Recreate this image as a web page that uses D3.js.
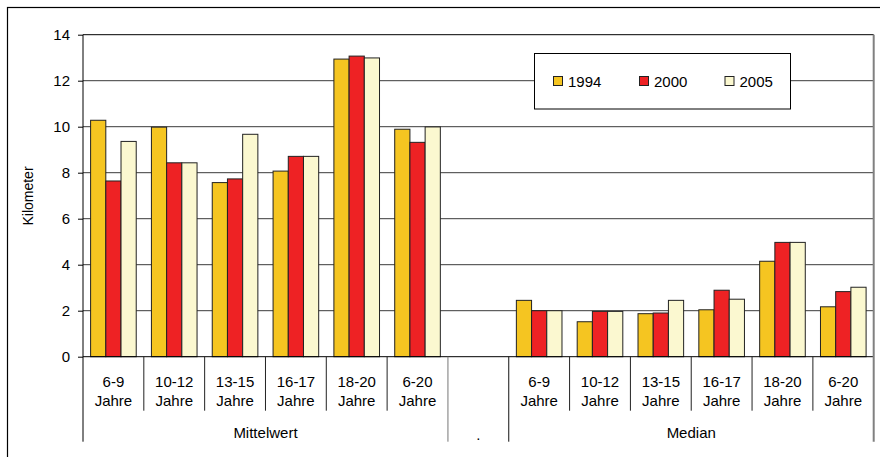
<!DOCTYPE html>
<html>
<head>
<meta charset="utf-8">
<script src="https://cdn.jsdelivr.net/npm/d3@7"></script>
<style>
  body { margin: 0; background: #fff; }
  svg text { font-family: Arial, "Liberation Sans", sans-serif; fill: #000; }
</style>
</head>
<body>
<div id="chart"></div>
<script>
// --- Data (Kilometer) ---
const categories = ['6-9', '10-12', '13-15', '16-17', '18-20', '6-20'];
const groups = ['Mittelwert', '.', 'Median'];
const series = ['1994', '2000', '2005'];
const seriesColors = ['#f5c521', '#ee2224', '#fbf8d0'];

const mittelwert1994 = [10.28, 9.98, 7.57, 8.07, 12.94, 9.89];
const mittelwert2000 = [7.64, 8.43, 7.73, 8.71, 13.07, 9.32];
const mittelwert2005 = [9.36, 8.43, 9.67, 8.71, 12.99, 9.99];

const median1994 = [2.45, 1.52, 1.87, 2.04, 4.15, 2.17];
const median2000 = [2.0, 1.97, 1.9, 2.89, 4.97, 2.83];
const median2005 = [2.0, 1.97, 2.45, 2.5, 4.97, 3.02];

const yTicks = [0, 2, 4, 6, 8, 10, 12, 14];

// --- Layout ---
const W = 880, H = 457;
const plot = { left: 83, right: 873.7, top: 34.7, bottom: 356.7 };
const axisBottomY = 410.7;   // end of inner category separators
const groupBottomY = 441.7;  // end of group separators

const svg = d3.select('#chart').append('svg')
    .attr('width', W)
    .attr('height', H);

// outer frame (runs past the picture on right and bottom)
svg.append('rect')
    .attr('x', 7.5).attr('y', 7.5)
    .attr('width', 920).attr('height', 500)
    .attr('fill', 'none')
    .attr('stroke', '#000')
    .attr('stroke-width', 1.2);

// slots: 6 Mittelwert, 1 blank, 6 Median
const slotKeys = [
    ...categories.map(c => 'M|' + c),
    'gap',
    ...categories.map(c => 'D|' + c)
];

const x = d3.scaleBand()
    .domain(slotKeys)
    .range([plot.left, plot.right])
    .padding(0);

const xInner = d3.scaleBand()
    .domain(series)
    .range([0, x.bandwidth()])
    .paddingInner(0)
    .paddingOuter(0.5);

const y = d3.scaleLinear()
    .domain([0, 14])
    .range([plot.bottom, plot.top]);

// --- Gridlines ---
svg.append('g')
    .selectAll('line')
    .data(yTicks.filter(d => d > 0))
    .enter().append('line')
    .attr('x1', plot.left).attr('x2', plot.right)
    .attr('y1', d => y(d)).attr('y2', d => y(d))
    .attr('stroke', d => d === 14 ? '#000' : '#3a3a3a')
    .attr('stroke-width', 1);

// --- Bars ---
const allSeries = {
    M: [mittelwert1994, mittelwert2000, mittelwert2005],
    D: [median1994, median2000, median2005]
};

const barData = [];
['M', 'D'].forEach(g => {
    categories.forEach((c, ci) => {
        series.forEach((s, si) => {
            barData.push({ slot: g + '|' + c, series: s, si, value: allSeries[g][si][ci] });
        });
    });
});

svg.append('g')
    .selectAll('rect')
    .data(barData)
    .enter().append('rect')
    .attr('x', d => x(d.slot) + xInner(d.series))
    .attr('y', d => y(d.value))
    .attr('width', xInner.bandwidth())
    .attr('height', d => y(0) - y(d.value))
    .attr('fill', d => seriesColors[d.si])
    .attr('stroke', '#222')
    .attr('stroke-width', 1);

// --- Y axis ---
svg.append('line')
    .attr('x1', plot.left).attr('x2', plot.left)
    .attr('y1', plot.top).attr('y2', groupBottomY)
    .attr('stroke', '#000');

svg.append('g')
    .attr('transform', `translate(${plot.left},0)`)
    .call(d3.axisLeft(y).tickValues(yTicks).tickSize(5).tickPadding(8))
    .call(g => g.select('.domain').remove())
    .call(g => g.selectAll('line').attr('stroke', '#000'))
    .call(g => g.selectAll('text')
        .attr('font-size', '15px')
        .attr('font-family', 'Arial, "Liberation Sans", sans-serif')
        .attr('fill', '#000'));

svg.append('text')
    .attr('transform', `translate(33,196) rotate(-90)`)
    .attr('text-anchor', 'middle')
    .attr('font-size', '14px')
    .text('Kilometer');

// zero line
svg.append('line')
    .attr('x1', plot.left).attr('x2', plot.right)
    .attr('y1', y(0)).attr('y2', y(0))
    .attr('stroke', '#000');

// right border of the plot
svg.append('line')
    .attr('x1', plot.right).attr('x2', plot.right)
    .attr('y1', plot.top).attr('y2', groupBottomY)
    .attr('stroke', '#808080')
    .attr('stroke-width', 2);

// --- X axis: category separators ---
const groupEdges = [plot.left, x('gap'), x('gap') + x.bandwidth(), plot.right];
const innerEdges = slotKeys.slice(1)
    .map(k => x(k))
    .filter(px => !groupEdges.some(e => Math.abs(e - px) < 0.5));

svg.append('g')
    .selectAll('line')
    .data(innerEdges)
    .enter().append('line')
    .attr('x1', d => d).attr('x2', d => d)
    .attr('y1', y(0)).attr('y2', axisBottomY)
    .attr('stroke', '#222');

svg.append('g')
    .selectAll('line')
    .data(groupEdges.slice(1, 3))
    .enter().append('line')
    .attr('x1', d => d).attr('x2', d => d)
    .attr('y1', y(0)).attr('y2', groupBottomY)
    .attr('stroke', (d, i) => i === 0 ? '#777' : '#111');

// category labels
const catLabels = svg.append('g')
    .selectAll('g')
    .data(slotKeys.filter(k => k !== 'gap'))
    .enter().append('g')
    .attr('transform', d => `translate(${x(d) + x.bandwidth() / 2},0)`);

catLabels.append('text')
    .attr('y', 386.5)
    .attr('text-anchor', 'middle')
    .attr('font-size', '15px')
    .text(d => d.split('|')[1]);

catLabels.append('text')
    .attr('y', 406)
    .attr('text-anchor', 'middle')
    .attr('font-size', '15px')
    .text('Jahre');

// group labels
const groupCenters = [
    (groupEdges[0] + groupEdges[1]) / 2,
    (groupEdges[1] + groupEdges[2]) / 2,
    (groupEdges[2] + groupEdges[3]) / 2
];

svg.append('g')
    .selectAll('text')
    .data(groups)
    .enter().append('text')
    .attr('x', (d, i) => groupCenters[i])
    .attr('y', (d, i) => i === 1 ? 440 : 437.5)
    .attr('text-anchor', 'middle')
    .attr('font-size', '15px')
    .text(d => d);

// --- Legend ---
const legend = svg.append('g');
legend.append('rect')
    .attr('x', 534.5).attr('y', 53.5)
    .attr('width', 256).attr('height', 55.5)
    .attr('fill', '#fff')
    .attr('stroke', '#000');

const legendX = [553.5, 639.5, 725];
const items = legend.selectAll('g.item')
    .data(series)
    .enter().append('g')
    .attr('class', 'item')
    .attr('transform', (d, i) => `translate(${legendX[i]},76.5)`);

items.append('rect')
    .attr('width', 9).attr('height', 9)
    .attr('fill', (d, i) => seriesColors[i])
    .attr('stroke', '#222');

items.append('text')
    .attr('x', 14.5)
    .attr('y', 10)
    .attr('font-size', '15px')
    .text(d => d);
</script>
</body>
</html>
